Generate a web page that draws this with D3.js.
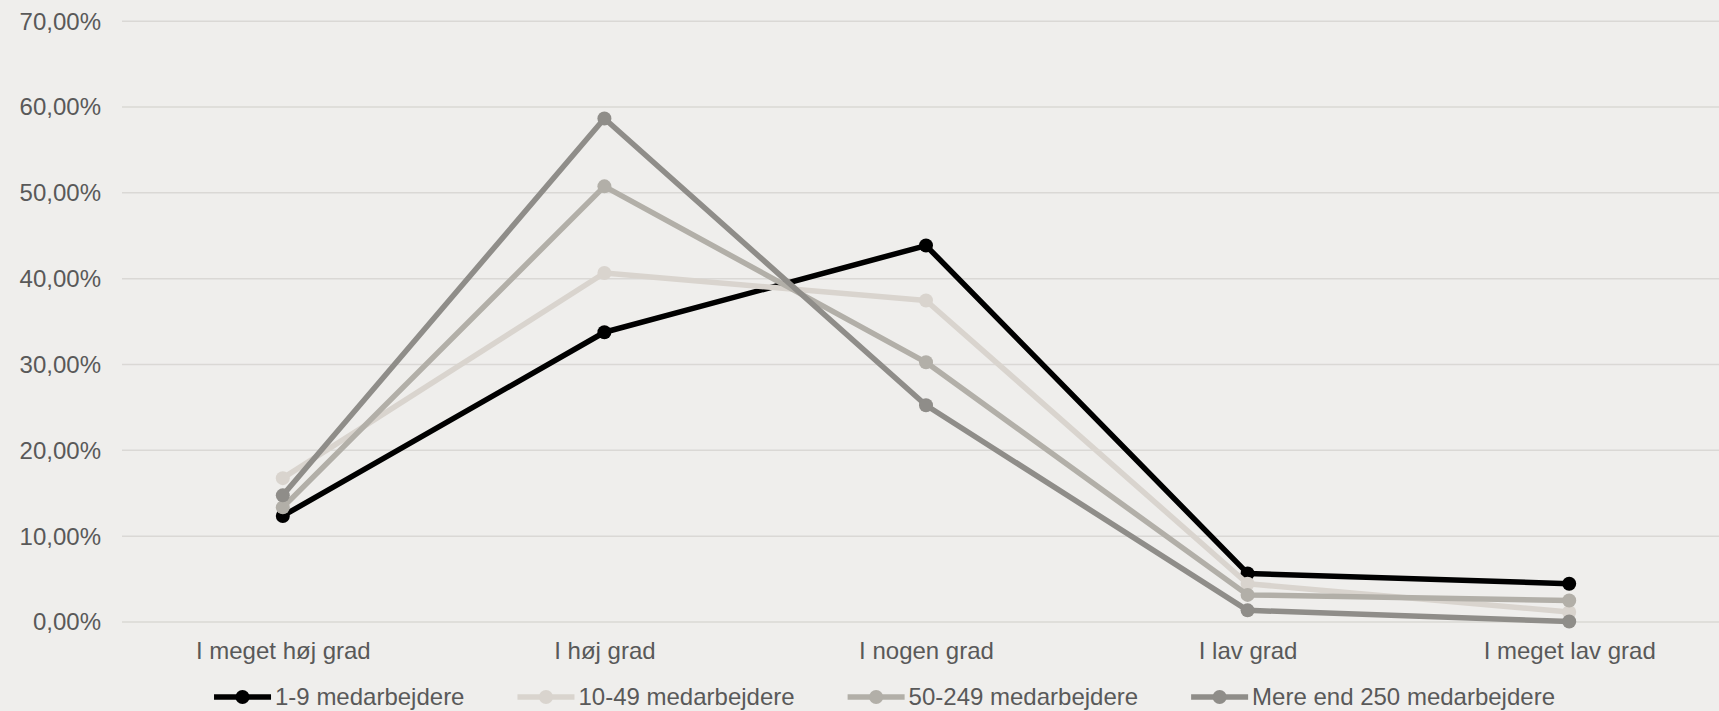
<!DOCTYPE html>
<html lang="da">
<head>
<meta charset="utf-8">
<script src="https://cdn.jsdelivr.net/npm/d3@7"></script>
<style>
  html, body { margin: 0; padding: 0; background: #efeeec; overflow: hidden; }
  svg { display: block; font-family: "Liberation Sans", Arial, sans-serif; }
</style>
</head>
<body>
<svg id="chart" width="1719" height="711"></svg>
<script>
// Answer categories along the x axis
const categories = ["I meget høj grad", "I høj grad", "I nogen grad", "I lav grad", "I meget lav grad"];

// Series names (company size)
const seriesNames = ["1-9 medarbejdere", "10-49 medarbejdere", "50-249 medarbejdere", "Mere end 250 medarbejdere"];

// Share of answers in percent, one array per series
const values_1_9 = [12.3, 33.7, 43.8, 5.6, 4.4];
const values_10_49 = [16.7, 40.6, 37.4, 4.4, 1.1];
const values_50_249 = [13.3, 50.7, 30.2, 3.1, 2.45];
const values_250 = [14.7, 58.6, 25.2, 1.3, 0.0];

// Y axis ticks (percent)
const yTicks = [0, 10, 20, 30, 40, 50, 60, 70];

const seriesValues = [values_1_9, values_10_49, values_50_249, values_250];
const colors = ["#000000", "#d9d4ce", "#b2afa8", "#8f8d89"];

const svg = d3.select("#chart");
const chartWidth = 1769;            // full drawing width; the right edge runs past the window
const plotLeft = 122, plotRight = 1730;
const plotTop = 20.7, plotBottom = 621.5;

const x = d3.scalePoint().domain(categories).range([plotLeft, plotRight]).padding(0.5);
const y = d3.scaleLinear().domain([0, 70]).range([plotBottom, plotTop]);

const fmt = v => d3.format(".2f")(v).replace(".", ",") + "%";

// Horizontal gridlines and percent labels
const yAxis = d3.axisLeft(y).tickValues(yTicks).tickFormat(fmt)
  .tickSize(-(plotRight - plotLeft)).tickPadding(21);
const gy = svg.append("g").attr("transform", `translate(${plotLeft},0)`).call(yAxis);
gy.select(".domain").remove();
gy.selectAll(".tick line").attr("stroke", "#dad8d5").attr("stroke-width", 1.5);
gy.selectAll(".tick text").attr("fill", "#595959").attr("font-size", 24)
  .attr("font-family", "'Liberation Sans', Arial, sans-serif").attr("dy", "0.35em");

// Category labels
const xAxis = d3.axisBottom(x).tickSize(0).tickPadding(20);
const gx = svg.append("g").attr("transform", `translate(0,${plotBottom})`).call(xAxis);
gx.select(".domain").remove();
gx.selectAll(".tick text").attr("fill", "#595959").attr("font-size", 24)
  .attr("font-family", "'Liberation Sans', Arial, sans-serif");

// Lines with round markers
const line = d3.line().x((d, i) => x(categories[i])).y(d => y(d));
seriesValues.forEach((vals, s) => {
  const g = svg.append("g");
  g.append("path").datum(vals).attr("d", line)
    .attr("fill", "none").attr("stroke", colors[s]).attr("stroke-width", 5.5)
    .attr("stroke-linejoin", "round");
  g.selectAll("circle").data(vals).join("circle")
    .attr("cx", (d, i) => x(categories[i])).attr("cy", d => y(d))
    .attr("r", 7).attr("fill", colors[s]);
});

// Legend, centered on the full drawing width
const legendY = 697;
const lineLen = 57, textGap = 4, itemGap = 53;
const legend = svg.append("g");
const items = seriesNames.map((name, s) => {
  const g = legend.append("g");
  g.append("line").attr("x1", 0).attr("x2", lineLen).attr("y1", 0).attr("y2", 0)
    .attr("stroke", colors[s]).attr("stroke-width", 5.5);
  g.append("circle").attr("cx", lineLen / 2).attr("cy", 0).attr("r", 7).attr("fill", colors[s]);
  const t = g.append("text").attr("x", lineLen + textGap).attr("y", 0).attr("dy", "0.35em")
    .attr("fill", "#595959").attr("font-size", 24).text(name);
  return { g, w: lineLen + textGap + t.node().getComputedTextLength() };
});
const totalW = d3.sum(items, d => d.w) + itemGap * (items.length - 1);
let cx = chartWidth / 2 - totalW / 2;
items.forEach(it => {
  it.g.attr("transform", `translate(${cx},${legendY})`);
  cx += it.w + itemGap;
});
</script>
</body>
</html>
